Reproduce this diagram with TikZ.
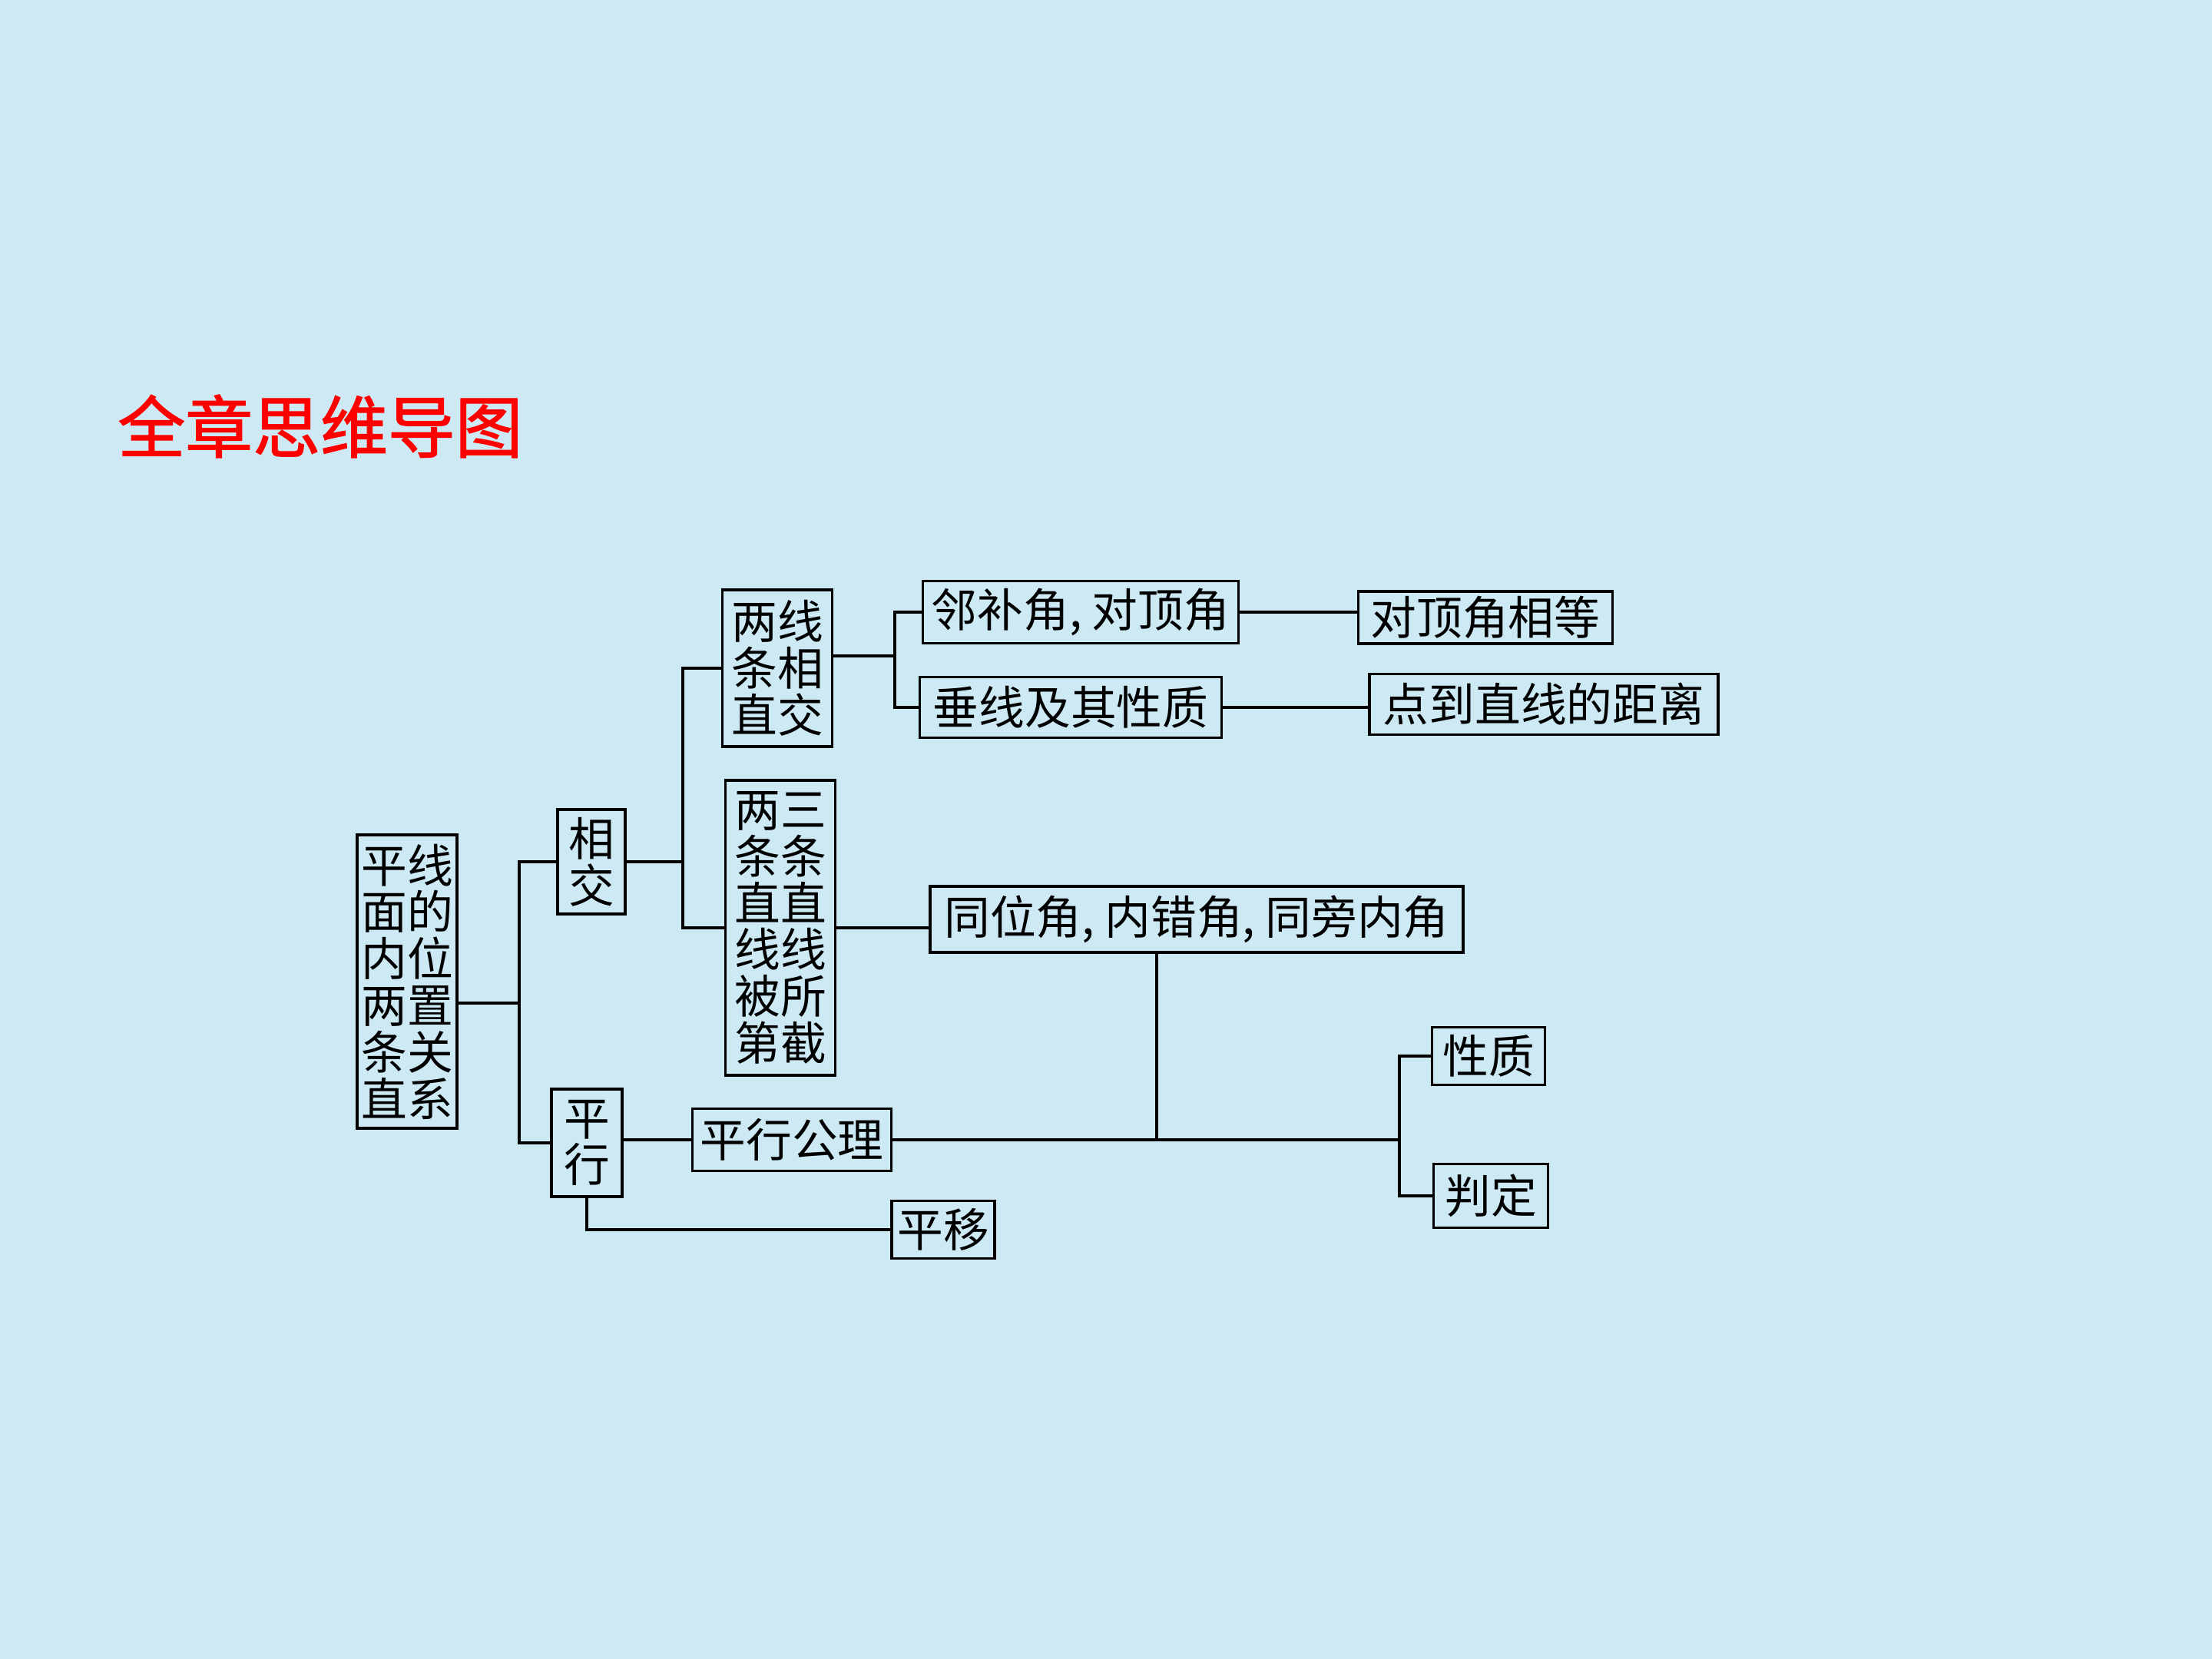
\documentclass[tikz,border=0pt]{standalone}
\usepackage{fontspec}
\setmainfont{Noto Sans CJK SC}
\newfontfamily\titlefont[FakeBold=1.5]{Noto Sans CJK SC}
\usepackage{tikz}
\usetikzlibrary{calc}
\definecolor{bgblue}{RGB}{204,233,244}
\definecolor{titlered}{RGB}{255,0,0}

\begin{document}
\begin{tikzpicture}[
  topic/.style={draw, line width=1pt, inner sep=0pt, align=center,
    font=\fontsize{17}{17.3}\selectfont},
  link/.style={line width=0.9pt}]
\fill[bgblue] (0,0) rectangle (28.8,21.6);
\useasboundingbox (0,0) rectangle (28.8,21.6);

\node[anchor=west, text=titlered, font=\titlefont\fontsize{25}{25}\selectfont] (title) at (1.41,16.05) {全章思维导图};

% left part
\node[topic, minimum width=1.30cm, minimum height=3.82cm] (rel) at (5.30,8.82) {平线\\面的\\内位\\两置\\条关\\直系};
\node[topic, minimum width=0.88cm, minimum height=1.36cm] (cross) at (7.70,10.38) {相\\交};
\node[topic, minimum width=0.92cm, minimum height=1.40cm] (para) at (7.64,6.72) {平\\行};

% intersecting lines
\node[topic, minimum width=1.43cm, minimum height=2.04cm] (two) at (10.12,12.90) {两线\\条相\\直交};
\node[topic, minimum width=1.43cm, minimum height=3.84cm] (three) at (10.16,9.52) {两三\\条条\\直直\\线线\\被所\\第截};
\node[topic, minimum width=4.11cm, minimum height=0.81cm] (adj) at (14.07,13.63) {邻补角, 对顶角};
\node[topic, minimum width=3.93cm, minimum height=0.79cm] (perp) at (13.94,12.39) {垂线及其性质};
\node[topic, minimum width=3.31cm, minimum height=0.68cm] (vert) at (19.34,13.56) {对顶角相等};
\node[topic, minimum width=4.54cm, minimum height=0.79cm] (dist) at (20.10,12.43) {点到直线的距离};
\node[topic, minimum width=6.94cm, minimum height=0.86cm] (angles) at (15.58,9.63) {同位角, 内错角, 同旁内角};

% parallel lines
\node[topic, minimum width=2.59cm, minimum height=0.81cm] (axiom) at (10.31,6.76) {平行公理};
\node[topic, minimum width=1.47cm, minimum height=0.75cm] (prop) at (19.38,7.85) {性质};
\node[topic, minimum width=1.49cm, minimum height=0.83cm] (test) at (19.41,6.03) {判定};
\node[topic, minimum width=1.34cm, minimum height=0.75cm] (shift) at (12.28,5.59) {平移};

% connectors
\coordinate (tA) at (6.76,8.54);
\coordinate (tX) at (8.89,10.38);
\coordinate (tB) at (11.65,13.06);
\coordinate (tE) at (15.06,6.76);
\coordinate (tG) at (18.22,6.76);

\draw[link] (rel.east |- tA) -- (tA);
\draw[link] (cross.west) -| (tA) |- (para.west);
\draw[link] (cross.east) -- (tX);
\draw[link] (two.west) -| (tX) |- (three.west);
\draw[link] (two.east |- tB) -- (tB);
\draw[link] (adj.west) -| (tB) |- (perp.west);
\draw[link] (adj.east) -- (adj.east -| vert.west);
\draw[link] (perp.east) -- (perp.east -| dist.west);
\draw[link] (three.east) -- (three.east -| angles.west);
\draw[link] (angles.south -| tE) -- (tE);
\draw[link] (para.east |- axiom.east) -- (axiom.west);
\draw[link] (axiom.east) -- (tG);
\draw[link] (prop.west) -| (tG) |- (test.west);
\draw[link] (para.south) |- (shift.west);
\end{tikzpicture}
\end{document}
